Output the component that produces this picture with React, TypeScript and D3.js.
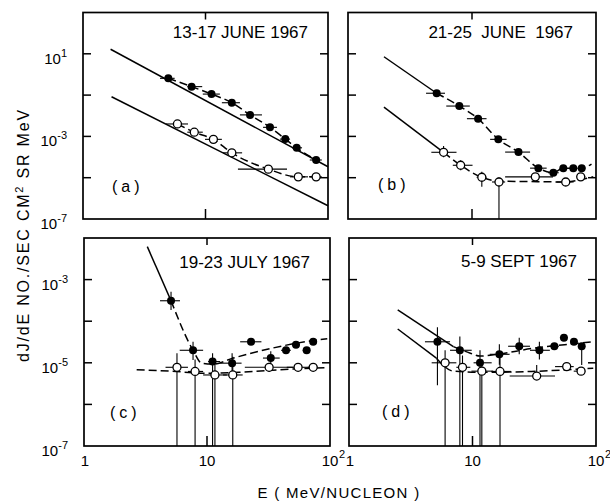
import React from 'react';
import * as d3 from 'd3';

// each point: [E (MeV/nucleon), dJ/dE, E low, E high, flux low, flux high] (0 = no vertical bar)
const aFilled = [
  [4.97, 0.65, 4.25, 5.6, 0, 0],
  [7.7, 0.257, 7.1, 9.4, 0, 0],
  [11.2, 0.112, 9.5, 13.1, 0, 0],
  [16.4, 0.0427, 13.6, 19.1, 0, 0],
  [23.1, 0.011, 19.1, 28.9, 0, 0],
  [33.6, 0.00275, 29.5, 38.3, 0, 0],
  [44.8, 7.4e-4, 40.6, 49, 0, 0],
  [55.5, 2.8e-4, 50.8, 61.4, 0, 0],
  [80, 7.2e-5, 71, 89, 0, 0],
];
const aOpen = [
  [5.9, 4.0e-3, 4.76, 7.2, 0, 0],
  [8.1, 1.6e-3, 7.1, 9.5, 0, 0],
  [11.6, 7.2e-4, 9.9, 13.6, 0, 0],
  [16.4, 1.6e-4, 13.9, 19.9, 0, 0],
  [32.6, 2.6e-5, 18.4, 46.3, 0, 0],
  [57.2, 1.1e-5, 49, 68.7, 0, 0],
  [80, 1.1e-5, 71, 89, 0, 0],
];
const bFilled = [
  [5.19, 0.123, 4.26, 6.06, 0, 0],
  [7.9, 0.0295, 6.2, 9.6, 0, 0],
  [11.2, 7.2e-3, 9.1, 13.1, 0, 0],
  [16.3, 7.2e-4, 14, 19, 0, 0],
  [23.7, 1.74e-4, 18.5, 29.4, 0, 0],
  [34.3, 2.9e-5, 29.4, 40, 0, 0],
  [45.3, 1.74e-5, 41, 50, 0, 0],
  [54.5, 2.9e-5, 51, 58, 0, 0],
  [65.6, 2.9e-5, 62, 70, 0, 0],
  [76.7, 2.9e-5, 73, 81, 0, 0],
];
const bOpen = [
  [5.9, 1.7e-4, 4.7, 7.5, 9.8e-5, 3.4e-4],
  [8.1, 4.0e-5, 7, 10.1, 2.3e-5, 7e-5],
  [12.0, 1.05e-5, 10.9, 13.1, 3.6e-6, 1.95e-5],
  [16.5, 6.2e-6, 14.5, 18.5, 1e-7, 1.05e-5],
  [32.4, 1.1e-5, 18.5, 45, 0, 0],
  [57, 6.2e-6, 48, 66, 0, 0],
  [75.3, 1.1e-5, 70, 82, 0, 0],
];
const cFilled = [
  [5.1, 3.1e-4, 4.15, 6.03, 1.86e-4, 5.1e-4],
  [7.7, 2.0e-5, 6.0, 9.3, 1.17e-5, 3.2e-5],
  [11.1, 1.07e-5, 10.2, 12.8, 1e-7, 1.7e-5],
  [16.0, 9.8e-6, 12.8, 19.1, 5.6e-6, 1.7e-5],
  [22.8, 3.2e-5, 18.6, 27.7, 0, 0],
  [33, 1.3e-5, 28.5, 39, 9e-6, 1.9e-5],
  [43.9, 2.0e-5, 40, 48, 0, 0],
  [52.9, 2.7e-5, 49, 57, 0, 0],
  [64.6, 2.0e-5, 60, 69, 0, 0],
  [73, 3.2e-5, 69, 78, 0, 0],
];
const cOpen = [
  [5.7, 7.8e-6, 4.6, 7.0, 1e-7, 1.7e-5],
  [8.0, 6.2e-6, 7.0, 9.3, 1e-7, 1.2e-5],
  [11.6, 5.1e-6, 9.3, 14.5, 1e-7, 1.0e-5],
  [16.2, 5.1e-6, 13.5, 19.5, 1e-7, 1.4e-5],
  [32, 7.8e-6, 20.3, 50, 6e-6, 1.0e-5],
  [55, 7.8e-6, 44.5, 68, 0, 0],
  [73, 7.8e-6, 66, 80, 0, 0],
];
const dFilled = [
  [5.2, 3.2e-5, 4.12, 6.58, 2.9e-6, 7.2e-5],
  [7.9, 2.0e-5, 6.58, 9.85, 1e-7, 4.3e-5],
  [11.5, 1.0e-5, 10.2, 14.3, 1e-7, 2.0e-5],
  [16.5, 1.6e-5, 13.8, 20, 9e-6, 2.8e-5],
  [23.9, 2.5e-5, 19.4, 29.2, 1.6e-5, 4.0e-5],
  [34.8, 2.0e-5, 29.2, 42.3, 1.2e-5, 3.2e-5],
  [46, 2.5e-5, 42, 50, 0, 0],
  [55, 4.0e-5, 51, 59, 0, 0],
  [66.3, 3.2e-5, 62, 70, 0, 0],
  [76.6, 2.5e-5, 72, 81, 8.9e-6, 2.5e-5],
];
const dOpen = [
  [6.0, 1.0e-5, 4.67, 7.4, 1e-7, 2.0e-5],
  [8.3, 7.8e-6, 7.4, 9.6, 1e-7, 1.5e-5],
  [11.9, 6.3e-6, 9.8, 14.7, 1e-7, 1.2e-5],
  [16.7, 6.2e-6, 14.2, 20.5, 1e-7, 1.3e-5],
  [33.1, 4.8e-6, 20, 46.6, 4.3e-6, 8.9e-6],
  [57.9, 8.1e-6, 46.6, 66, 0, 0],
  [75.7, 6.3e-6, 66, 82, 0, 0],
];

// fitted curves [E, dJ/dE]
const aUpperSolid = [[1.68, 16.6], [100, 3.4e-5]];
const aLowerSolid = [[1.71, 0.083], [100, 4.4e-7]];
const bUpperSolid = [[1.95, 7.2], [5.19, 0.123]];
const bUpperDash = [...bFilled.map((d) => [d[0], d[1]]), [92, 4.6e-5]];
const bLowerSolid = [[1.95, 0.026], [5.9, 1.7e-4]];
const bLowerDash = [[5.9, 1.7e-4], [8.1, 4e-5], [12, 1.05e-5], [16.5, 6.8e-6], [30, 6.5e-6], [57, 6.2e-6], [75, 8e-6], [95, 1.1e-5]];
const cUpperSolid = [[3.27, 6.2e-3], [5.1, 3.1e-4]];
const cUpperDash = [[5.1, 3.1e-4], [7.7, 2.0e-5], [9.05, 9.8e-6], [11.2, 9.3e-6], [16.4, 1.3e-5], [62.6, 3.2e-5], [95, 3.8e-5]];
const cLowerDash = [[2.68, 6.8e-6], [5, 6.3e-6], [10, 5.6e-6], [20, 6.0e-6], [50, 7.1e-6], [95, 7.6e-6]];
const dUpperSolid = [[2.48, 1.86e-4], [7.0, 2.45e-5]];
const dUpperDash = [[7.0, 2.45e-5], [9.6, 1.7e-5], [11.5, 1.45e-5], [16, 1.6e-5], [30, 2.2e-5], [60, 2.8e-5], [95, 3.2e-5]];
const dLowerSolid = [[2.48, 6.5e-5], [5.1, 1.29e-5]];
const dLowerDash = [[5.1, 1.29e-5], [7.0, 6.3e-6], [12, 5.9e-6], [30, 6.2e-6], [95, 7.4e-6]];

const topTicks = [1e1, 1e-1, 1e-3, 1e-5];
const bottomTicks = [1e-3, 1e-4, 1e-5, 1e-6];
const topLabels = [[1e1, '1'], [1e-3, '-3'], [1e-7, '-7']];
const bottomLabels = [[1e-3, '-3'], [1e-5, '-5'], [1e-7, '-7']];
const titles = ['13-17 JUNE 1967', '21-25  JUNE  1967', '19-23 JULY 1967', '5-9 SEPT 1967'];
const letters = ['(a)', '(b)', '(c)', '(d)'];

const FONT = "'Liberation Sans', Arial, Helvetica, sans-serif";

function Panel({ box, yDomain, yTicks, yLabels, title, titleAt, letter, letterAt, filled, open, solids, dashes, xLabels }) {
  const x = d3.scaleLog().domain([1, 100]).range([box.x0, box.x1]);
  const y = d3.scaleLog().domain(yDomain).range([box.y1, box.y0]).clamp(true);
  const curve = d3.line().x((d) => x(d[0])).y((d) => y(d[1])).curve(d3.curveMonotoneX);
  const straight = d3.line().x((d) => x(d[0])).y((d) => y(d[1]));

  const bars = (pts) => pts.map((d, i) => (
    <g key={i}>
      <line x1={x(d[2])} x2={x(d[3])} y1={y(d[1])} y2={y(d[1])} stroke="#000" strokeWidth={1.1} />
      {d[4] > 0 && (
        <line x1={x(d[0])} x2={x(d[0])} y1={y(d[4])} y2={y(d[5])} stroke="#000" strokeWidth={1.1} />
      )}
    </g>
  ));

  return (
    <g>
      {solids.map((s, i) => (
        <path key={`s${i}`} d={s.length > 2 ? curve(s) : straight(s)} fill="none" stroke="#000" strokeWidth={1.5} />
      ))}
      {dashes.map((s, i) => (
        <path key={`d${i}`} d={curve(s)} fill="none" stroke="#000" strokeWidth={1.5} strokeDasharray="8,4" />
      ))}
      {bars(filled)}
      {bars(open)}
      {filled.map((d, i) => (
        <circle key={`f${i}`} cx={x(d[0])} cy={y(d[1])} r={4} fill="#000" />
      ))}
      {open.map((d, i) => (
        <circle key={`o${i}`} cx={x(d[0])} cy={y(d[1])} r={4} fill="#fff" stroke="#000" strokeWidth={1.3} />
      ))}
      <rect x={box.x0} y={box.y0} width={box.x1 - box.x0} height={box.y1 - box.y0} fill="none" stroke="#000" strokeWidth={1.7} />
      {yTicks.map((t) => (
        <g key={t}>
          <line x1={box.x0} x2={box.x0 + 8} y1={y(t)} y2={y(t)} stroke="#000" strokeWidth={1.5} />
          <line x1={box.x1} x2={box.x1 - 8} y1={y(t)} y2={y(t)} stroke="#000" strokeWidth={1.5} />
        </g>
      ))}
      <line x1={x(10)} x2={x(10)} y1={box.y1} y2={box.y1 - 10} stroke="#000" strokeWidth={1.5} />
      <line x1={x(10)} x2={x(10)} y1={box.y0} y2={box.y0 + 7} stroke="#000" strokeWidth={1.5} />
      {yLabels.map(([v, e]) => (
        <text key={e} x={box.x0 - 16} y={y(v) + 10} textAnchor="end" fontSize={15} fontFamily={FONT}>
          10<tspan dy={-7} fontSize={11}>{e}</tspan>
        </text>
      ))}
      {xLabels && (
        <g fontFamily={FONT} fontSize={15}>
          <text x={x(1) + 1} y={466} textAnchor="middle">1</text>
          <text x={x(10)} y={466} textAnchor="middle">10</text>
          <text x={x(100)} y={466} textAnchor="middle">10</text>
          <text x={x(100) + 9} y={458} fontSize={11}>2</text>
        </g>
      )}
      <text x={titleAt[0]} y={titleAt[1]} textAnchor="end" fontSize={17} fontFamily={FONT} style={{ whiteSpace: 'pre' }}>{title}</text>
      <text x={letterAt[0]} y={letterAt[1]} fontSize={16} fontFamily={FONT} letterSpacing={4}>{letter}</text>
    </g>
  );
}

export default function App() {
  const boxA = { x0: 83, x1: 328, y0: 12.5, y1: 219 };
  const boxB = { x0: 348, x1: 596, y0: 12.5, y1: 219 };
  const boxC = { x0: 84, x1: 330, y0: 238, y1: 446 };
  const boxD = { x0: 349, x1: 596, y0: 238, y1: 446 };
  const pair = (pts) => pts.map((d) => [d[0], d[1]]);
  return (
    <svg width={610} height={504} style={{ position: 'absolute', left: 0, top: 0, background: '#fff' }}>
      <rect width={610} height={504} fill="#fff" />
      <Panel box={boxA} yDomain={[1e-7, 1e3]} yTicks={topTicks} yLabels={topLabels} title={titles[0]} titleAt={[308, 38]}
        letter={letters[0]} letterAt={[112, 191.5]} filled={aFilled} open={aOpen}
        solids={[aUpperSolid, aLowerSolid]} dashes={[pair(aFilled), pair(aOpen)]} xLabels={false} />
      <Panel box={boxB} yDomain={[1e-7, 1e3]} yTicks={topTicks} yLabels={[]} title={titles[1]} titleAt={[573, 37.5]}
        letter={letters[1]} letterAt={[378, 190]} filled={bFilled} open={bOpen}
        solids={[bUpperSolid, bLowerSolid]} dashes={[bUpperDash, bLowerDash]} xLabels={false} />
      <Panel box={boxC} yDomain={[1e-7, 1e-2]} yTicks={bottomTicks} yLabels={bottomLabels} title={titles[2]} titleAt={[310, 268]}
        letter={letters[2]} letterAt={[110, 418]} filled={cFilled} open={cOpen}
        solids={[cUpperSolid]} dashes={[cUpperDash, cLowerDash]} xLabels />
      <Panel box={boxD} yDomain={[1e-7, 1e-2]} yTicks={bottomTicks} yLabels={[]} title={titles[3]} titleAt={[577, 267]}
        letter={letters[3]} letterAt={[382, 417]} filled={dFilled} open={dOpen}
        solids={[dUpperSolid, dLowerSolid]} dashes={[dUpperDash, dLowerDash]} xLabels />
      <text transform="translate(29,235) rotate(-90)" textAnchor="middle" fontSize={16} fontFamily={FONT} letterSpacing={1.8}>
        dJ/dE NO./SEC CM<tspan dy={-6} fontSize={11}>2</tspan><tspan dy={6}> SR MeV</tspan>
      </text>
      <text x={339} y={498} textAnchor="middle" fontSize={15} fontFamily={FONT} letterSpacing={1.3} style={{ whiteSpace: 'pre' }}>
        E ( MeV/NUCLEON )
      </text>
    </svg>
  );
}
